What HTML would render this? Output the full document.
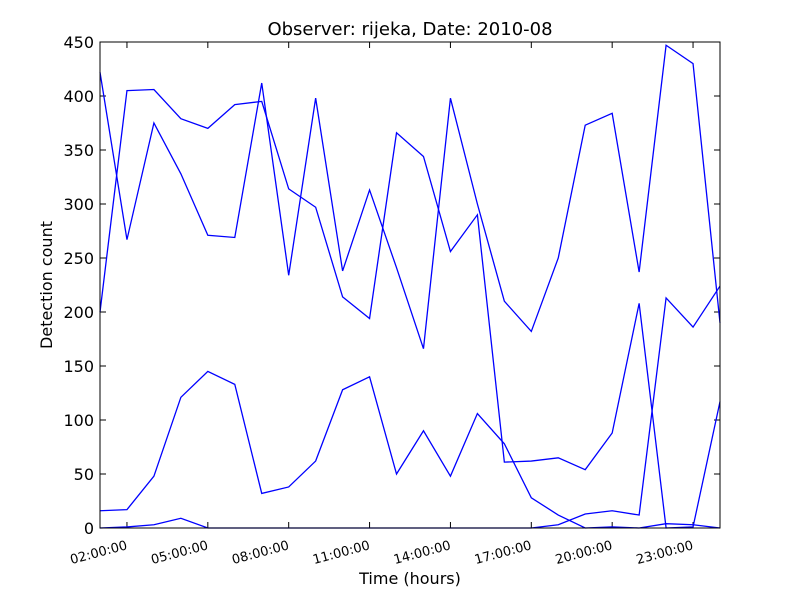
<!DOCTYPE html>
<html><head><meta charset="utf-8"><style>
body{margin:0;background:#fff;}
svg text{font-family:"DejaVu Sans","Liberation Sans",sans-serif;}
</style></head><body>
<svg id="chart" width="800" height="600">
<rect width="800" height="600" fill="#fff"/>
<text x="410" y="35" font-size="18" text-anchor="middle">Observer: rijeka, Date: 2010-08</text>
<text x="410" y="584" font-size="16" text-anchor="middle">Time (hours)</text>
<text transform="translate(52,285) rotate(-90)" font-size="16" text-anchor="middle">Detection count</text>
<g id="grid"></g>
<g id="series"></g>
<rect x="100" y="42" width="620" height="486" fill="none" stroke="#000" stroke-width="1"/>
</svg>
<script>
const yTicks=[0,50,100,150,200,250,300,350,400,450];
const xTickIdx=[1,4,7,10,13,16,19,22];
const xTickLabels=["02:00:00","05:00:00","08:00:00","11:00:00","14:00:00","17:00:00","20:00:00","23:00:00"];
const s1=[200,405,406,379,370,392,395,314,297,214,194,366,344,256,290,61,62,65,54,88,208,0,1,117];
const s2=[422,267,375,328,271,269,412,234,398,238,313,241,166,398,300,210,182,250,373,384,237,447,430,190];
const s3=[16,17,48,121,145,133,32,38,62,128,140,50,90,48,106,78,28,12,0,1,0,4,3,0];
const s4=[0,1,3,9,0,0,0,0,0,0,0,0,0,0,0,0,0,3,13,16,12,213,186,224];
const NS="http://www.w3.org/2000/svg";
const x=i=>100+i*620/23;
const y=v=>528-v*486/450;
const g=document.getElementById('grid');
function mk(t,a,p){const e=document.createElementNS(NS,t);for(const k in a)e.setAttribute(k,a[k]);p.appendChild(e);return e;}
yTicks.forEach(v=>{
  const l=mk('line',{x1:100,x2:106,y1:y(v),y2:y(v),stroke:'#000'},g);
  
  
  mk('line',{x1:714,x2:720,y1:y(v),y2:y(v),stroke:'#000'},g);
  const t=mk('text',{x:94,y:y(v)+6,'font-size':16,'text-anchor':'end'},g);
  t.textContent=v;
  
  
});
xTickIdx.forEach((i,k)=>{
  const l=mk('line',{x1:x(i),x2:x(i),y1:528,y2:522,stroke:'#000'},g);
  
  
  mk('line',{x1:x(i),x2:x(i),y1:42,y2:48,stroke:'#000'},g);
  const t=mk('text',{transform:`translate(${x(i)+1},${549}) rotate(-15)`,'font-size':13,'text-anchor':'end'},g);
  t.textContent=xTickLabels[k];
  
  
});
const sg=document.getElementById('series');
[s1,s2,s3,s4].forEach((s,k)=>{
  const p=mk('polyline',{points:s.map((v,i)=>x(i)+','+y(v)).join(' '),fill:'none',stroke:'#0000ff','stroke-width':1.3},sg);
  
  
});
</script>
</body></html>
